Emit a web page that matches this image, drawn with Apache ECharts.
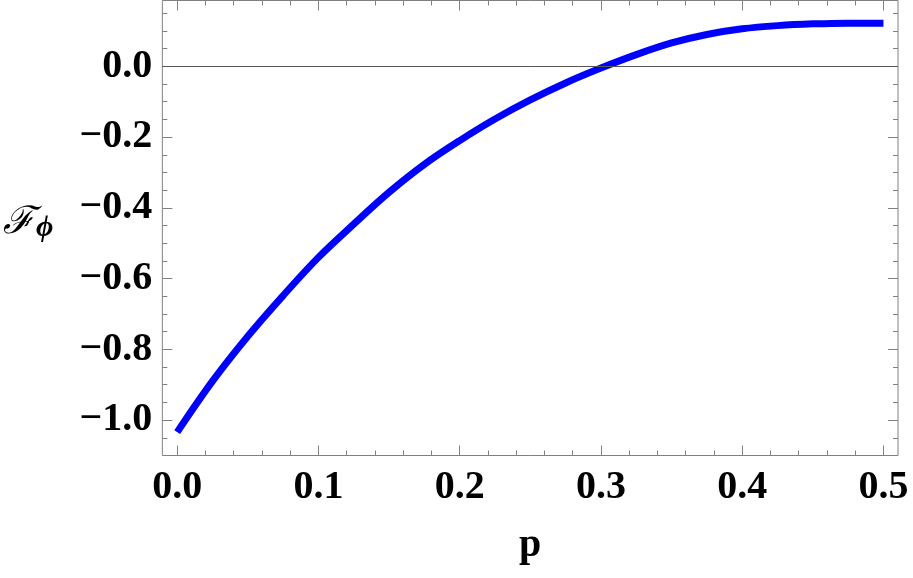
<!doctype html>
<html>
<head>
<meta charset="utf-8">
<title>F_phi vs p</title>
<script src="https://cdn.jsdelivr.net/npm/echarts@6/dist/echarts.min.js"></script>
<style>
    html, body { margin: 0; padding: 0; background: #fff; }
    #main { width: 913px; height: 578px; }
</style>
</head>
<body>
<div id="main"></div>
<script>
// values
var pValues = [0, 0.025, 0.05, 0.075, 0.1, 0.125, 0.15, 0.175, 0.2, 0.225, 0.25,
               0.275, 0.3, 0.325, 0.35, 0.375, 0.4, 0.425, 0.45, 0.475, 0.5];
var fValues = [-1.034, -0.89, -0.763, -0.648, -0.540, -0.446, -0.356, -0.277, -0.210, -0.149, -0.095,
               -0.047, -0.005, 0.033, 0.066, 0.090, 0.106, 0.115, 0.120, 0.122, 0.122];

var xMajor = [0, 0.1, 0.2, 0.3, 0.4, 0.5];
var xMinor = [0.02, 0.04, 0.06, 0.08, 0.12, 0.14, 0.16, 0.18, 0.22, 0.24, 0.26, 0.28,
              0.32, 0.34, 0.36, 0.38, 0.42, 0.44, 0.46, 0.48];
var yMajor = [-1.0, -0.8, -0.6, -0.4, -0.2, 0.0];
var yMinor = [-1.05, -0.95, -0.9, -0.85, -0.75, -0.7, -0.65, -0.55, -0.5, -0.45,
              -0.35, -0.3, -0.25, -0.15, -0.1, -0.05, 0.05, 0.1, 0.15];

var serif = "'Liberation Serif', 'Times New Roman', serif";
var frameGray = '#808080';

var xMin = -0.0105, xMax = 0.5103;
var yMin = -1.1, yMax = 0.186;

function xAx(pos, ticks, len, labels) {
    return {
        type: 'value', position: pos, min: xMin, max: xMax, offset: 0,
        axisLine: { show: false, onZero: false },
        splitLine: { show: false },
        axisTick: { show: true, inside: true, length: len, customValues: ticks,
                    lineStyle: { color: frameGray, width: 1 } },
        axisLabel: labels ? {
            show: true, customValues: ticks, margin: 12,
            fontFamily: serif, fontWeight: 'bold', fontSize: 40, color: '#000',
            formatter: function (v) { return v.toFixed(1); }
        } : { show: false }
    };
}

function yAx(pos, ticks, len, labels) {
    return {
        type: 'value', position: pos, min: yMin, max: yMax, offset: 0,
        axisLine: { show: false, onZero: false },
        splitLine: { show: false },
        axisTick: { show: true, inside: true, length: len, customValues: ticks,
                    lineStyle: { color: frameGray, width: 1 } },
        axisLabel: labels ? {
            show: true, customValues: ticks, margin: 10,
            fontFamily: serif, fontWeight: 'bold', fontSize: 40, color: '#000',
            formatter: function (v) {
                if (Math.abs(v) < 1e-9) return '0.0';
                return (v < 0 ? '\u2212' : '') + Math.abs(v).toFixed(1);
            }
        } : { show: false }
    };
}

var xAxes = [
    xAx('bottom', xMajor, 10, true),
    xAx('bottom', xMinor, 5, false),
    xAx('top', xMajor, 10, false),
    xAx('top', xMinor, 5, false)
];
xAxes[0].name = 'p';
xAxes[0].nameLocation = 'middle';
xAxes[0].nameGap = 70;
xAxes[0].nameTextStyle = { fontFamily: serif, fontWeight: 'bold', fontSize: 40, color: '#000' };

var yAxes = [
    yAx('left', yMajor, 10, true),
    yAx('left', yMinor, 5, false),
    yAx('right', yMajor, 10, false),
    yAx('right', yMinor, 5, false)
];
yAxes[0].name = '{f|\u2131}{s|\u03d5}';
yAxes[0].nameLocation = 'middle';
yAxes[0].nameRotate = 0;
yAxes[0].nameGap = 109;
yAxes[0].nameTextStyle = {
    rich: {
        f: { fontFamily: "'DejaVu Serif', serif", fontStyle: 'italic', fontSize: 38, color: '#000', padding: [0, 2, 10, 0] },
        s: { fontFamily: serif, fontStyle: 'italic', fontWeight: 'bold', fontSize: 30, color: '#000' }
    }
};

var myChart = echarts.init(document.getElementById('main'));

myChart.setOption({
    animation: false,
    grid: {
        left: 161, top: 0.5, width: 737, height: 455,
        show: true, borderColor: frameGray, borderWidth: 1, backgroundColor: '#fff'
    },
    xAxis: xAxes,
    yAxis: yAxes,
    series: [{
        type: 'line',
        xAxisIndex: 0,
        yAxisIndex: 0,
        data: pValues.map(function (p, i) { return [p, fValues[i]]; }),
        showSymbol: false,
        smooth: 0.35,
        lineStyle: { color: '#0000ff', width: 7, cap: 'butt' },
        markLine: {
            silent: true,
            symbol: ['none', 'none'],
            label: { show: false },
            lineStyle: { color: '#555', width: 1, type: 'solid' },
            data: [{ yAxis: 0 }]
        }
    }]
});
</script>
</body>
</html>
